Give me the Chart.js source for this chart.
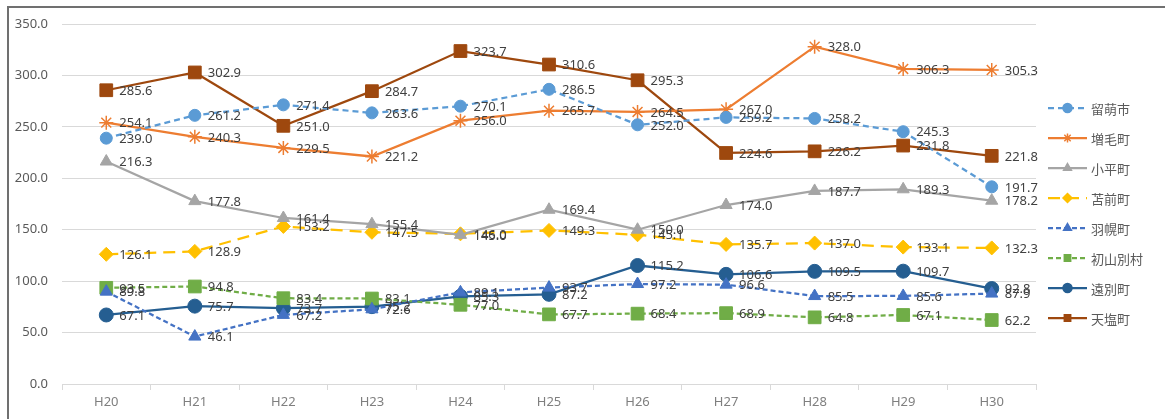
<!DOCTYPE html>
<html>
<head>
<meta charset="utf-8">
<style>
  html, body { margin: 0; padding: 0; background: #fff; overflow: hidden; }
  #wrap { position: relative; width: 1165px; height: 419px; overflow: hidden; }
  #lineChart { display: block; }
  #frame { position: absolute; left: 7px; top: 6px; width: 1200px; height: 450px;
           border-left: 2px solid #707070; border-top: 2px solid #707070; pointer-events: none; }
</style>
</head>
<body>
<div id="wrap">
  <canvas id="lineChart" width="1165" height="419"></canvas>
  <div id="frame"></div>
</div>

<script src="https://cdn.jsdelivr.net/npm/chart.js"></script>
<script>
// 年度
const years = ['H20', 'H21', 'H22', 'H23', 'H24', 'H25', 'H26', 'H27', 'H28', 'H29', 'H30'];

// 市町村ごとの値
const rumoi     = [239.0, 261.2, 271.4, 263.6, 270.1, 286.5, 252.0, 259.2, 258.2, 245.3, 191.7];
const mashike   = [254.1, 240.3, 229.5, 221.2, 256.0, 265.7, 264.5, 267.0, 328.0, 306.3, 305.3];
const obira     = [216.3, 177.8, 161.4, 155.4, 145.0, 169.4, 150.0, 174.0, 187.7, 189.3, 178.2];
const tomamae   = [126.1, 128.9, 153.2, 147.5, 146.0, 149.3, 145.1, 135.7, 137.0, 133.1, 132.3];
const haboro    = [89.8, 46.1, 67.2, 72.6, 89.1, 93.7, 97.2, 96.6, 85.5, 85.6, 87.9];
const shosanbetsu = [93.5, 94.8, 83.4, 83.1, 77.0, 67.7, 68.4, 68.9, 64.8, 67.1, 62.2];
const enbetsu   = [67.1, 75.7, 73.7, 75.2, 85.3, 87.2, 115.2, 106.6, 109.5, 109.7, 92.8];
const teshio    = [285.6, 302.9, 251.0, 284.7, 323.7, 310.6, 295.3, 224.6, 226.2, 231.8, 221.8];

// y軸の目盛り
const yTicks = [0, 50, 100, 150, 200, 250, 300, 350];

function series(label, data, color, style, radius, dash) {
  return {
    label: label,
    data: data,
    borderColor: color,
    backgroundColor: color,
    borderWidth: 2.25,
    borderDash: dash,
    pointStyle: style,
    pointRadius: radius,
    pointHoverRadius: radius,
    pointBackgroundColor: style === 'star' ? 'rgba(0,0,0,0)' : color,
    pointBorderColor: color,
    pointBorderWidth: style === 'star' ? 1.5 : 1,
    tension: 0
  };
}

// データラベル（点の右側）
const valueLabels = {
  id: 'valueLabels',
  afterDatasetsDraw(chart) {
    const ctx = chart.ctx;
    ctx.save();
    ctx.font = '13px "Noto Sans", "DejaVu Sans", sans-serif';
    ctx.fillStyle = '#404040';
    ctx.textAlign = 'left';
    ctx.textBaseline = 'middle';
    chart.data.datasets.forEach((ds, i) => {
      chart.getDatasetMeta(i).data.forEach((pt, j) => {
        ctx.fillText(ds.data[j].toFixed(1), pt.x + 13, pt.y + 1);
      });
    });
    ctx.restore();
  }
};

// 凡例（線＋マーカー）
const sideLegend = {
  id: 'sideLegend',
  afterDraw(chart) {
    const ctx = chart.ctx;
    const x0 = 1048, x1 = 1087, top = 108, gap = 30;
    ctx.save();
    chart.data.datasets.forEach((ds, i) => {
      const y = top + i * gap;
      ctx.strokeStyle = ds.borderColor;
      ctx.lineWidth = 2.25;
      ctx.setLineDash(ds.borderDash || []);
      ctx.beginPath();
      ctx.moveTo(x0, y);
      ctx.lineTo(x1, y);
      ctx.stroke();
      ctx.setLineDash([]);
      ctx.fillStyle = ds.pointBackgroundColor;
      ctx.strokeStyle = ds.pointBorderColor;
      ctx.lineWidth = 1.5;
      Chart.helpers.drawPoint(ctx, { pointStyle: ds.pointStyle, rotation: 0, borderWidth: 1.5, radius: 4.5 },
        (x0 + x1) / 2, y);
      ctx.font = '13px "Noto Sans CJK JP", sans-serif';
      ctx.fillStyle = '#595959';
      ctx.textAlign = 'left';
      ctx.textBaseline = 'middle';
      ctx.fillText(ds.label, 1091, y + 1);
    });
    ctx.restore();
  }
};

const ctx = document.getElementById('lineChart').getContext('2d');
new Chart(ctx, {
  type: 'line',
  data: {
    labels: years,
    datasets: [
      series('留萌市', rumoi, '#5B9BD5', 'circle', 6, [6, 4]),
      series('増毛町', mashike, '#ED7D31', 'star', 7, []),
      series('小平町', obira, '#A5A5A5', 'triangle', 7, []),
      series('苫前町', tomamae, '#FFC000', 'rectRot', 7, [12, 7]),
      series('羽幌町', haboro, '#4472C4', 'triangle', 7, [5, 3]),
      series('初山別村', shosanbetsu, '#70AD47', 'rect', 9, [5, 3]),
      series('遠別町', enbetsu, '#255E91', 'circle', 7, []),
      series('天塩町', teshio, '#9E480E', 'rect', 9, [])
    ]
  },
  options: {
    responsive: false,
    animation: false,
    events: [],
    layout: { padding: { left: 0, top: 24, right: 129, bottom: 0 } },
    plugins: {
      legend: { display: false },
      tooltip: { enabled: false }
    },
    scales: {
      x: {
        offset: true,
        grid: { display: true, offset: true, drawOnChartArea: false, drawTicks: true,
                tickLength: 6, color: '#D9D9D9' },
        border: { display: true, color: '#D9D9D9' },
        ticks: { color: '#7F7F7F', padding: 4, font: { size: 13, family: '"Noto Sans", sans-serif' } },
        afterFit(scale) { scale.height = 35; }
      },
      y: {
        min: 0,
        max: 350,
        afterBuildTicks(scale) { scale.ticks = yTicks.map(v => ({ value: v })); },
        grid: { color: '#D9D9D9', drawTicks: false },
        border: { display: false },
        ticks: {
          color: '#595959',
          padding: 14,
          font: { size: 13, family: '"Noto Sans", sans-serif' },
          callback: v => v.toFixed(1)
        },
        afterFit(scale) { scale.width = 62; }
      }
    }
  },
  plugins: [valueLabels, sideLegend]
});
</script>
</body>
</html>
